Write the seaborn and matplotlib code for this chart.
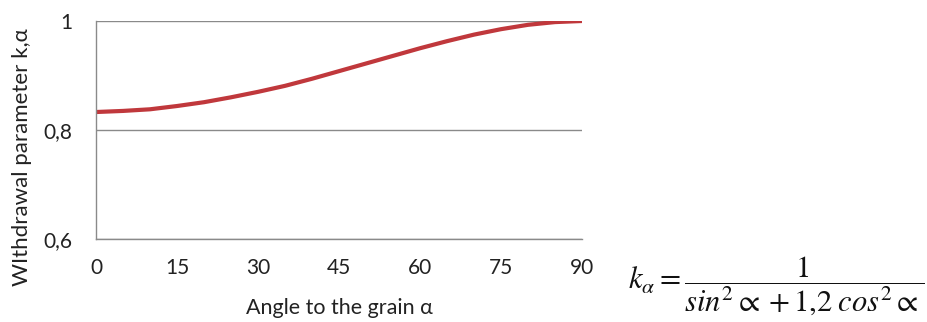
import matplotlib
matplotlib.use("Agg")
import matplotlib.pyplot as plt
import seaborn as sns
import pandas as pd

# Withdrawal parameter k_alpha against the angle to the grain
angle = [0, 5, 10, 15, 20, 25, 30, 35, 40, 45, 50, 55, 60, 65, 70, 75, 80, 85, 90]
k_alpha = [0.833, 0.835, 0.838, 0.844, 0.851, 0.860, 0.870, 0.881, 0.894, 0.908,
           0.922, 0.936, 0.950, 0.963, 0.975, 0.985, 0.993, 0.998, 1.000]
x_ticks = [0, 15, 30, 45, 60, 75, 90]
y_ticks = [0.6, 0.8, 1.0]
y_tick_labels = ["0,6", "0,8", "1"]

df = pd.DataFrame({"angle": angle, "k": k_alpha})

sns.set_theme(style="white")
plt.rcParams["font.family"] = ["Lato", "DejaVu Sans"]
plt.rcParams["mathtext.fontset"] = "stix"

fig = plt.figure(figsize=(9.28, 3.22), dpi=100)
ax = fig.add_axes([96 / 928, 1 - 239 / 322, (582 - 96) / 928, (239 - 21) / 322])

sns.lineplot(data=df, x="angle", y="k", ax=ax, color="#c0383c", linewidth=3.0)

ax.set_xlim(0, 90)
ax.set_ylim(0.6, 1.0)
ax.set_xticks(x_ticks)
ax.set_xticklabels([str(t) for t in x_ticks], fontsize=15, color="#222222")
ax.set_yticks(y_ticks)
ax.set_yticklabels(y_tick_labels, fontsize=15, color="#222222")
ax.tick_params(axis="x", length=0, pad=14)
ax.tick_params(axis="y", length=0, pad=17)

ax.grid(axis="y", color="#8a8a8a", linewidth=1.0)
ax.set_axisbelow(True)
for side in ["top", "right"]:
    ax.spines[side].set_visible(False)
ax.spines["left"].set_color("#8a8a8a")
ax.spines["left"].set_linewidth(1.0)
ax.spines["bottom"].set_color("#8a8a8a")
ax.spines["bottom"].set_linewidth(1.0)

ax.set_xlabel("Angle to the grain \u03b1", fontsize=15.5, color="#222222")
ax.xaxis.set_label_coords(0.5, -(308 - 239) / 218, transform=ax.transAxes)
ax.xaxis.label.set_va("center")
ax.set_ylabel("WIthdrawal parameter k,\u03b1", fontsize=16, color="#222222")
ax.yaxis.set_label_coords((22 - 96) / 486, (239 - 157) / 218)
ax.yaxis.label.set_va("center")

fig.text(0.677, 0.11,
         r"$k_\alpha = \dfrac{1}{sin^2 \propto +1{,}2\;cos^2 \propto}$",
         fontsize=22, color="#111111", ha="left", va="center")

fig.savefig("out.png", dpi=100, facecolor="white")
